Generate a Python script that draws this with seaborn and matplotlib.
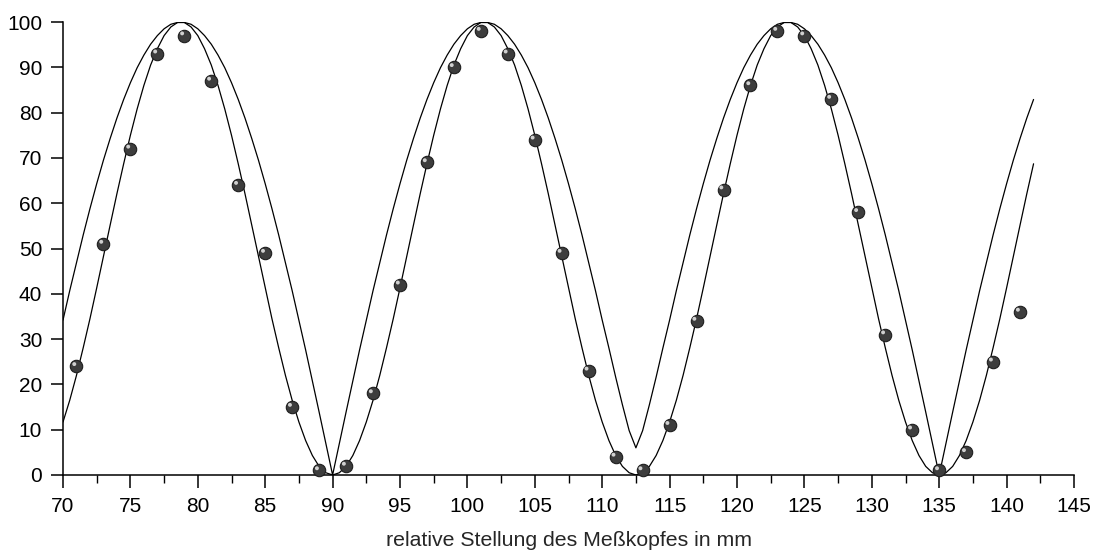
import numpy as np
import pandas as pd
import matplotlib
matplotlib.use("Agg")
import matplotlib.pyplot as plt
from matplotlib.ticker import MultipleLocator
from matplotlib.transforms import ScaledTranslation
import seaborn as sns

# ---- data ----
# measured points
meas_x = [71, 73, 75, 77, 79, 81, 83, 85, 87, 89, 91, 93, 95, 97, 99, 101, 103, 105,
          107, 109, 111, 113, 115, 117, 119, 121, 123, 125, 127, 129, 131, 133, 135,
          137, 139, 141]
meas_y = [24, 51, 72, 93, 97, 87, 64, 49, 15, 1, 2, 18, 42, 69, 90, 98, 93, 74,
          49, 23, 4, 1, 11, 34, 63, 86, 98, 97, 83, 58, 31, 10, 1, 5, 25, 36]

# sampled curve positions (every 0.5 mm from 70 to 142)
curve_start, curve_stop, curve_step = 70.0, 142.0, 0.5

# narrow curve (passes through the points, smooth minima)
curve_a = [
    11.7, 16.5, 22.0, 28.1, 34.5, 41.3, 48.3, 55.2, 62.1, 68.7, 75.0, 80.8, 86.0, 90.5, 94.1, 97.0, 98.9, 99.9,
    99.9, 98.9, 97.0, 94.1, 90.5, 86.0, 80.8, 75.0, 68.7, 62.1, 55.2, 48.3, 41.3, 34.5, 28.1, 22.0, 16.5, 11.7, 7.6, 4.3, 1.9, 0.5, 0.0,
    0.5, 1.9, 4.3, 7.6, 11.7, 16.5, 22.0, 28.1, 34.5, 41.3, 48.3, 55.2, 62.1, 68.7, 75.0, 80.8, 86.0, 90.5, 94.1, 97.0, 98.9, 99.9,
    99.9, 98.9, 97.0, 94.1, 90.5, 86.0, 80.8, 75.0, 68.7, 62.1, 55.2, 48.3, 41.3, 34.5, 28.1, 22.0, 16.5, 11.7, 7.6, 4.3, 1.9, 0.5, 0.0,
    0.5, 1.9, 4.3, 7.6, 11.7, 16.5, 22.0, 28.1, 34.5, 41.3, 48.3, 55.2, 62.1, 68.7, 75.0, 80.8, 86.0, 90.5, 94.1, 97.0, 98.9, 99.9,
    99.9, 98.9, 97.0, 94.1, 90.5, 86.0, 80.8, 75.0, 68.7, 62.1, 55.2, 48.3, 41.3, 34.5, 28.1, 22.0, 16.5, 11.7, 7.6, 4.3, 1.9, 0.5, 0.0,
    0.5, 1.9, 4.3, 7.6, 11.7, 16.5, 22.0, 28.1, 34.5, 41.3, 48.3, 55.2, 62.1, 68.7,
]

# wide curve (sharp V-shaped minima)
curve_b = [
    34.2, 40.7, 46.9, 53.0, 58.8, 64.3, 69.5, 74.3, 78.8, 82.9, 86.6, 89.9, 92.7, 95.1, 97.0, 98.5, 99.5, 99.9,
    99.9, 99.5, 98.5, 97.0, 95.1, 92.7, 89.9, 86.6, 82.9, 78.8, 74.3, 69.5, 64.3, 58.8, 53.0, 46.9, 40.7, 34.2, 27.6, 20.8, 13.9, 7.0, 0.0,
    7.0, 13.9, 20.8, 27.6, 34.2, 40.7, 46.9, 53.0, 58.8, 64.3, 69.5, 74.3, 78.8, 82.9, 86.6, 89.9, 92.7, 95.1, 97.0, 98.5, 99.5, 99.9,
    99.9, 99.5, 98.5, 97.0, 95.1, 92.7, 89.9, 86.6, 82.9, 78.8, 74.3, 69.5, 64.3, 58.8, 53.0, 46.9, 40.7, 34.2, 28.0, 21.6, 15.5, 9.8, 6.0,
    9.8, 15.5, 21.6, 28.0, 34.2, 40.7, 46.9, 53.0, 58.8, 64.3, 69.5, 74.3, 78.8, 82.9, 86.6, 89.9, 92.7, 95.1, 97.0, 98.5, 99.5, 99.9,
    99.9, 99.5, 98.5, 97.0, 95.1, 92.7, 89.9, 86.6, 82.9, 78.8, 74.3, 69.5, 64.3, 58.8, 53.0, 46.9, 40.7, 34.2, 27.6, 20.8, 13.9, 7.0, 0.0,
    7.0, 13.9, 20.8, 27.6, 34.2, 40.7, 46.9, 53.0, 58.8, 64.3, 69.5, 74.3, 78.8, 82.9,
]

x_ticks = [70, 75, 80, 85, 90, 95, 100, 105, 110, 115, 120, 125, 130, 135, 140, 145]
y_ticks = [0, 10, 20, 30, 40, 50, 60, 70, 80, 90, 100]
x_label = "relative Stellung des Meßkopfes in mm"

# ---- styling ----
sns.set_theme(style="ticks")
plt.rcParams["font.family"] = ["Liberation Sans", "DejaVu Sans"]

curve_x = np.arange(curve_start, curve_stop + curve_step / 2, curve_step)
df_curves = pd.DataFrame({"x": curve_x, "a": curve_a, "b": curve_b})
df_meas = pd.DataFrame({"x": meas_x, "y": meas_y})

fig = plt.figure(figsize=(10.98, 5.54), dpi=100)
ax = fig.add_axes([63 / 1098, 79 / 554, (1074 - 63) / 1098, (475 - 22) / 554])

sns.lineplot(data=df_curves, x="x", y="b", color="black", linewidth=0.9, ax=ax)
sns.lineplot(data=df_curves, x="x", y="a", color="black", linewidth=0.9, ax=ax)

sns.scatterplot(data=df_meas, x="x", y="y", s=80, color="#3d3d3d",
                edgecolor="#1e1e1e", linewidth=0.8, ax=ax, zorder=5, clip_on=False)
sns.scatterplot(data=df_meas, x="x", y="y", s=8, color="#d0d0d0",
                edgecolor="none", linewidth=0, ax=ax, zorder=6, clip_on=False)
hl = ax.collections[-1]
hl.set_offset_transform(ax.transData + ScaledTranslation(-2.2 / 100, 2.2 / 100, fig.dpi_scale_trans))

ax.set_xlim(70, 145)
ax.set_ylim(0, 100)
ax.set_xticks(x_ticks)
ax.set_yticks(y_ticks)
ax.xaxis.set_minor_locator(MultipleLocator(2.5))
ax.tick_params(axis="both", which="major", direction="out", length=9, width=1.1,
               labelsize=15, color="black", labelcolor="black")
ax.tick_params(axis="x", which="major", pad=7)
ax.tick_params(axis="y", which="major", pad=6)
ax.tick_params(axis="x", which="minor", direction="out", length=6, width=1.0, color="black")
sns.despine(ax=ax)
for s in ("left", "bottom"):
    ax.spines[s].set_linewidth(1.1)
    ax.spines[s].set_color("black")

ax.set_xlabel(x_label, fontsize=15.3, labelpad=11)
ax.set_ylabel("")
ax.grid(False)

fig.savefig("out.png", dpi=100, facecolor="white")
